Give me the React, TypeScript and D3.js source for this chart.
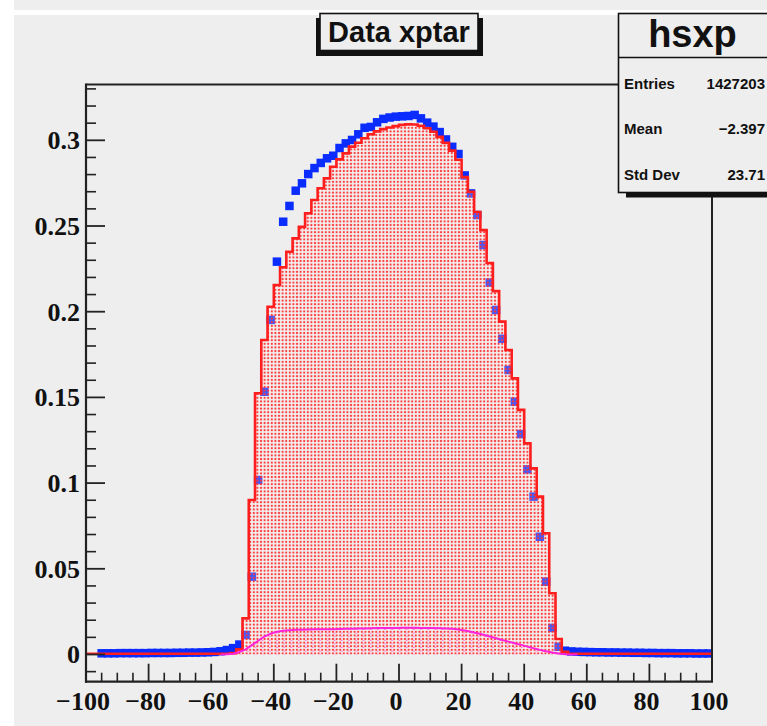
import React from "react";
import * as d3 from "d3";

// ---- data ----
const histTitle = "Data xptar";
const statsName = "hsxp";
const statsLabels = ["Entries", "Mean", "Std Dev"];
const statsValues = ["1427203", "\u22122.397", "23.71"];

const xTicksMajor = [-100, -80, -60, -40, -20, 0, 20, 40, 60, 80, 100];
const yTicksMajor = [0, 0.05, 0.1, 0.15, 0.2, 0.25, 0.3];
const yTickLabels = ["0", "0.05", "0.1", "0.15", "0.2", "0.25", "0.3"];

// Simulation histogram (red), 100 bins of width 2 from -100 to 100
const binLow = -100;
const binWidth = 2;
const simValues = [
  0.0004, 0.0004, 0.0004, 0.0004, 0.0004, 0.0004, 0.0004, 0.0004, 0.0004, 0.0004,
  0.0004, 0.0004, 0.0004, 0.0004, 0.0004, 0.0004, 0.0004, 0.0004, 0.0004, 0.0004,
  0.0004, 0.0004, 0.0004, 0.0008, 0.003, 0.0211, 0.0901, 0.1524, 0.1835, 0.2029,
  0.2156, 0.2259, 0.235, 0.2428, 0.2495, 0.2574, 0.2652, 0.272, 0.2778, 0.2846,
  0.2889, 0.2924, 0.2963, 0.2986, 0.3012, 0.3035, 0.3052, 0.3065, 0.3075, 0.3083,
  0.309, 0.3093, 0.3092, 0.3085, 0.307, 0.305, 0.302, 0.2985, 0.294, 0.2887,
  0.2786, 0.27, 0.2582, 0.2476, 0.2284, 0.212, 0.1942, 0.1777, 0.1611, 0.1427,
  0.1232, 0.1086, 0.0921, 0.0707, 0.0357, 0.009, 0.0016, 0.0004, 0.0004, 0.0004,
  0.0004, 0.0004, 0.0004, 0.0004, 0.0004, 0.0004, 0.0004, 0.0004, 0.0004, 0.0004,
  0.0004, 0.0004, 0.0004, 0.0004, 0.0004, 0.0004, 0.0004, 0.0004, 0.0004, 0.0004,
];

// Data points (blue), one per bin centre (-99 ... 99); null = empty bin
const dataValues: (number | null)[] = [
  null, null, 0.0007, 0.0007, 0.0007, 0.0008, 0.0008, 0.0008, 0.0008, 0.0008,
  0.0009, 0.0009, 0.0009, 0.0009, 0.001, 0.001, 0.0011, 0.0011, 0.0012, 0.0013,
  0.0015, 0.0019, 0.0026, 0.0037, 0.0058, 0.0114, 0.0454, 0.1018, 0.1533, 0.1952,
  0.2292, 0.2525, 0.2617, 0.2706, 0.2749, 0.2803, 0.2838, 0.2868, 0.2895, 0.291,
  0.2955, 0.2982, 0.3002, 0.3035, 0.3073, 0.3078, 0.3105, 0.3125, 0.3133, 0.3138,
  0.314, 0.3142, 0.3148, 0.3128, 0.3103, 0.308, 0.3048, 0.3005, 0.2962, 0.292,
  0.2795, 0.269, 0.2564, 0.2389, 0.217, 0.201, 0.1842, 0.166, 0.1475, 0.1286,
  0.108, 0.0921, 0.0687, 0.0425, 0.0155, 0.0045, 0.0022, 0.0018, 0.0016, 0.0015,
  0.0014, 0.0013, 0.0013, 0.0012, 0.0012, 0.0011, 0.0011, 0.001, 0.001, 0.0009,
  0.0009, 0.0008, 0.0008, 0.0008, 0.0007, 0.0007, 0.0007, 0.0006, 0.0006, 0.0006,
];

// Background component (magenta), at bin centres
const bgX = [
  -57, -55, -53, -51, -49, -47, -45, -43, -41, -39, -37, -35, -33, -31, -29, -27, -25, -23, -21, -19,
  -17, -15, -13, -11, -9, -7, -5, -3, -1, 1, 3, 5, 7, 9, 11, 13, 15, 17, 19, 21,
  23, 25, 27, 29, 31, 33, 35, 37, 39, 41, 43, 45, 47, 49, 51, 53, 55, 57,
];
const bgY = [
  0, 0.0001, 0.0005, 0.0015, 0.003, 0.0055, 0.008, 0.0105, 0.0122, 0.0133, 0.0139, 0.0142, 0.0144, 0.0145, 0.0146, 0.0147, 0.0147, 0.0148, 0.0148, 0.0149,
  0.015, 0.015, 0.0151, 0.0152, 0.0153, 0.0154, 0.0155, 0.0155, 0.0155, 0.0156, 0.0156, 0.0156, 0.0155, 0.0155, 0.0154, 0.0153, 0.0152, 0.015, 0.0146, 0.014,
  0.0133, 0.0124, 0.0115, 0.0105, 0.0095, 0.0085, 0.0075, 0.0066, 0.0056, 0.0046, 0.0036, 0.0027, 0.0019, 0.0012, 0.0006, 0.0002, 0, 0,
];

const W = 767;
const H = 726;
const BG = "#eeeeee";
const RED = "#ff1e1e";
const BLUE = "#0a2cff";
const MAG = "#ff22dd";

export default function App() {
  const x = d3.scaleLinear().domain([-100, 100]).range([86, 712]);
  const y = d3.scaleLinear().domain([-0.01587, 0.33256]).range([681.7, 84.5]);

  const x0 = x.range()[0];
  const x1 = x.range()[1];
  const yb = y.range()[0];
  const yt = y.range()[1];

  // step path of histogram
  const stepPts: [number, number][] = [];
  simValues.forEach((v, i) => {
    const lo = binLow + i * binWidth;
    const hi = lo + binWidth;
    stepPts.push([x(lo), y(v)]);
    stepPts.push([x(hi), y(v)]);
  });
  const stepLine = d3.line()(stepPts) as string;
  const fillPath = `M${x(-100)},${y(0)}L` + stepPts.map((p) => p.join(",")).join("L") + `L${x(100)},${y(0)}Z`;

  const bgPts: [number, number][] = bgX.map((v, i) => [x(v), y(bgY[i])]);
  const bgLine = d3.line()(bgPts) as string;
  const bgArea = d3
    .area<[number, number]>()
    .x((d) => d[0])
    .y0(y(0))
    .y1((d) => d[1])(bgPts) as string;

  const yMinor = d3.range(-0.01, 0.331, 0.01).filter((v) => Math.abs(Math.round(v / 0.05) * 0.05 - v) > 1e-6);
  const xMinor = d3.range(-95, 100, 5).filter((v) => v % 20 !== 0);

  const ms = 8.5;

  return (
    <svg width={W} height={H} style={{ position: "absolute", left: 0, top: 0 }}>
      <defs>
        <pattern id="redpat" patternUnits="userSpaceOnUse" width="3.6" height="3.6">
          <rect x="0" y="0" width="3.6" height="3.6" fill="rgba(255,255,255,0.22)" />
          <rect x="0.8" y="0.8" width="2" height="2" fill="#ff3030" opacity="0.95" />
        </pattern>
        <pattern id="magpat" patternUnits="userSpaceOnUse" width="7.2" height="3.6">
          <rect x="2.7" y="2.7" width="1.4" height="1" fill={MAG} opacity="0.7" />
        </pattern>
        <clipPath id="frameclip">
          <rect x={x0} y={yt} width={x1 - x0} height={yb - yt} />
        </clipPath>
      </defs>
      <rect x={0} y={0} width={W} height={H} fill="#ffffff" />
      <rect x={14} y={0} width={W - 14} height={10} fill={BG} />
      <rect x={14} y={15} width={W - 14} height={H - 15} fill={BG} />

      <g clipPath="url(#frameclip)">
        {dataValues.map((v, i) =>
          v === null ? null : (
            <rect
              key={i}
              x={x(binLow + i * binWidth + binWidth / 2) - ms / 2}
              y={y(v) - ms / 2}
              width={ms}
              height={ms}
              fill={BLUE}
            />
          )
        )}
        <path d={fillPath} fill="url(#redpat)" />
        <path d={bgArea} fill="url(#magpat)" />
        <path d={stepLine} fill="none" stroke={RED} strokeWidth={2.6} />
        <path d={bgLine} fill="none" stroke={MAG} strokeWidth={2} />
      </g>

      {/* frame */}
      <line x1={x0} y1={yt} x2={620} y2={yt} stroke="#222" strokeWidth={2} />
      <line x1={x1} y1={195} x2={x1} y2={yb} stroke="#222" strokeWidth={2} />
      <line x1={x0} y1={yt - 1} x2={x0} y2={yb + 1} stroke="#222" strokeWidth={2.2} />
      <line x1={x0 - 1} y1={yb} x2={x1 + 1} y2={yb} stroke="#222" strokeWidth={2.2} />

      {/* y ticks */}
      {yTicksMajor.map((t, i) => (
        <g key={"yt" + i}>
          <line x1={x0} x2={x0 + 19} y1={y(t)} y2={y(t)} stroke="#222" strokeWidth={1.8} />
          <text
            x={80}
            y={y(t)}
            dy="0.34em"
            textAnchor="end"
            fontFamily="'Liberation Serif', 'DejaVu Serif', serif"
            fontWeight="bold"
            fontSize={26}
            fill="#111"
          >
            {yTickLabels[i]}
          </text>
        </g>
      ))}
      {yMinor.map((t, i) => (
        <line key={"ym" + i} x1={x0} x2={x0 + 10} y1={y(t)} y2={y(t)} stroke="#222" strokeWidth={1.6} />
      ))}

      {/* x ticks */}
      {xTicksMajor.map((t, i) => (
        <g key={"xt" + i}>
          <line x1={x(t)} x2={x(t)} y1={yb} y2={yb - 18} stroke="#222" strokeWidth={1.8} />
          <text
            x={x(t) - 3}
            y={710}
            textAnchor="middle"
            fontFamily="'Liberation Serif', 'DejaVu Serif', serif"
            fontWeight="bold"
            fontSize={26}
            fill="#111"
          >
            {t < 0 ? "\u2212" + Math.abs(t) : String(t)}
          </text>
        </g>
      ))}
      {xMinor.map((t, i) => (
        <line key={"xm" + i} x1={x(t)} x2={x(t)} y1={yb} y2={yb - 9} stroke="#222" strokeWidth={1.6} />
      ))}

      {/* title box */}
      <rect x={316} y={18} width={167} height={38} fill="#111" />
      <rect x={320} y={13.5} width={158} height={37} fill={BG} stroke="#111" strokeWidth={1.6} />
      <text
        x={399}
        y={42}
        textAnchor="middle"
        fontFamily="'Liberation Sans', Arial, sans-serif"
        fontWeight="bold"
        fontSize={29}
        fill="#111"
      >
        {histTitle}
      </text>

      {/* stats box */}
      <rect x={626} y={18} width={160} height={179.5} fill="#111" />
      <rect x={618.5} y={13.5} width={160} height={179} fill={BG} stroke="#111" strokeWidth={1.6} />
      <line x1={618.5} x2={780} y1={57.5} y2={57.5} stroke="#111" strokeWidth={1.6} />
      <text
        x={692.5}
        y={46.5}
        textAnchor="middle"
        fontFamily="'Liberation Sans', Arial, sans-serif"
        fontWeight="bold"
        fontSize={38}
        fill="#111"
      >
        {statsName}
      </text>
      {statsLabels.map((l, i) => (
        <g key={"st" + i}>
          <text
            x={624}
            y={88.5 + i * 45.5}
            fontFamily="'Liberation Sans', Arial, sans-serif"
            fontWeight="bold"
            fontSize={15}
            fill="#111"
          >
            {l}
          </text>
          <text
            x={765}
            y={88.5 + i * 45.5}
            textAnchor="end"
            fontFamily="'Liberation Sans', Arial, sans-serif"
            fontWeight="bold"
            fontSize={15}
            fill="#111"
          >
            {statsValues[i]}
          </text>
        </g>
      ))}
    </svg>
  );
}
